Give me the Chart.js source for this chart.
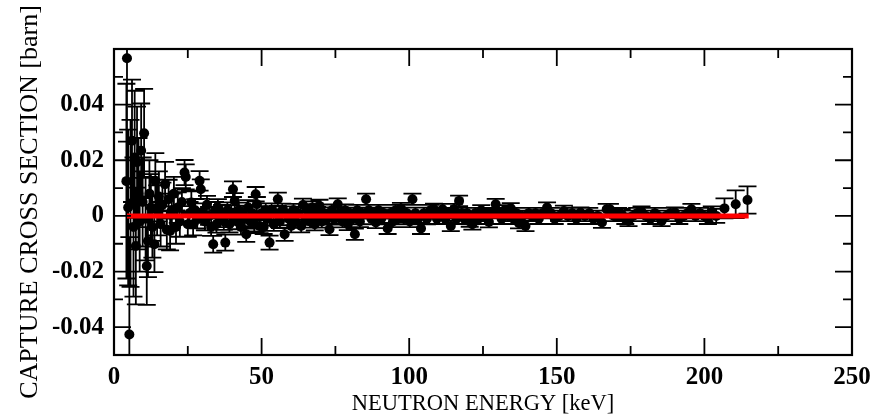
<!DOCTYPE html>
<html>
<head>
<meta charset="utf-8">
<script src="https://cdn.jsdelivr.net/npm/chart.js@4/dist/chart.umd.min.js"></script>
<style>
html, body { margin: 0; padding: 0; background: #fff; }
</style>
</head>
<body>
<canvas id="grafico" width="885" height="416"></canvas>
<script>
// Energia do neutron (keV)
const energia = [
  4.2, 4.4, 4.8, 5.2, 5.6, 6.1, 6.6, 7.0, 7.4, 7.8, 8.3, 8.7, 9.2, 9.7, 10.2, 10.7, 11.1, 11.5, 12.0, 12.5,
  13.0, 13.7, 14.0, 14.6, 15.2, 15.8, 16.4, 17.3, 17.9, 18.5, 19.0, 19.6, 20.3, 21.0, 21.6, 22.3, 23.0, 23.9, 24.3, 25.0,
  25.6, 26.2, 26.8, 27.5, 28.2, 29.0, 29.4, 30.1, 30.8, 31.5, 32.2, 32.9, 33.6, 34.2, 34.7, 35.2, 35.9, 36.6, 37.2, 37.7,
  38.4, 39.1, 39.7, 40.3, 40.9, 41.6, 42.3, 43.0, 43.7, 44.3, 44.8, 45.5, 46.2, 46.9, 47.5, 48.0, 48.4, 49.3, 50.0, 50.7,
  51.4, 52.0, 52.7, 53.4, 54.1, 54.8, 55.5, 56.2, 57.0, 57.8, 58.5, 59.2, 60.0, 60.8, 61.6, 62.4, 63.4, 64.0, 64.8, 65.6,
  66.4, 67.2, 68.0, 68.8, 69.6, 70.4, 71.2, 72.1, 73.0, 73.8, 74.6, 75.8, 76.6, 77.4, 78.3, 79.2, 80.1, 81.0, 81.6, 82.4,
  83.3, 84.2, 85.4, 86.3, 87.2, 88.1, 88.7, 89.6, 90.5, 91.4, 92.7, 93.6, 94.5, 95.4, 96.3, 97.2, 98.2, 99.2, 100.2, 101.1,
  102.1, 103.0, 104.0, 105.0, 106.0, 107.2, 108.4, 109.4, 110.4, 111.3, 112.2, 113.2, 114.1, 115.2, 116.0, 116.9, 117.8, 118.7, 119.6, 120.5,
  121.4, 122.4, 123.4, 124.4, 125.4, 126.2, 127.0, 128.0, 129.3, 130.3, 131.3, 132.3, 133.4, 134.4, 135.4, 136.3, 137.2, 138.3, 139.4, 140.5,
  141.6, 142.8, 143.9, 145.2, 146.7, 148.0, 149.3, 150.8, 152.4, 153.8, 155.2, 156.6, 158.0, 159.5, 161.0, 162.4, 163.8, 165.3, 166.9, 168.0,
  169.4, 170.8, 172.0, 173.2, 174.3, 175.8, 177.2, 178.7, 180.2, 181.7, 183.2, 184.3, 185.5, 187.0, 188.5, 190.0, 191.5, 193.0, 194.3, 195.6,
  197.0, 198.5, 200.0, 201.2, 202.5, 204.0, 206.8, 210.6, 214.6
];

// Secao de choque de captura (barn)
const secao = [
  0.0125, 0.0567, 0.003, -0.0426, 0.0045, 0.027, -0.004, 0.021, -0.0108, 0.0193, 0.008, -0.002, 0.0234, 0.005, 0.0297, -0.001, -0.018, -0.009, 0.008, 0.003,
  -0.004, -0.0102, 0.0126, 0.002, 0.007, -0.003, 0.004, 0.0114, -0.005, 0.006, -0.0054, 0.002, 0.008, -0.004, 0.003, -0.002, 0.005, 0.0156, 0.014, -0.003,
  0.001, 0.0048, -0.003, 0.002, -0.001, 0.0126, 0.0096, 0.001, -0.002, 0.004, 0.0, -0.004, -0.0102, 0.002, -0.003, 0.003, -0.001, 0.001, -0.002, -0.0096,
  0.002, -0.003, 0.001, 0.0096, 0.0054, -0.002, 0.002, -0.004, 0.001, -0.001, -0.0066, 0.003, -0.002, 0.001, -0.003, 0.0078, 0.0042, -0.0036, 0.001, -0.004,
  0.002, -0.001, -0.0096, 0.002, -0.003, 0.001, 0.006, -0.002, 0.002, -0.0066, 0.001, -0.001, -0.0036, 0.002, -0.002, 0.001, -0.0036, 0.0039, -0.001, 0.002,
  -0.002, 0.003, -0.003, 0.001, 0.0036, -0.002, 0.001, -0.001, -0.0048, 0.002, -0.001, 0.0042, 0.001, -0.002, 0.002, -0.003, 0.001, -0.001, -0.0066, 0.002,
  -0.002, 0.001, 0.006, 0.002, -0.001, 0.001, -0.0024, 0.002, -0.001, 0.001, -0.0045, 0.001, -0.002, 0.002, -0.001, 0.0027, -0.001, 0.001, -0.002, 0.006,
  0.001, -0.001, -0.0045, 0.001, -0.001, 0.002, 0.0024, -0.001, 0.001, 0.0024, -0.001, 0.001, -0.0036, 0.0024, -0.001, 0.0054, 0.001, -0.001, 0.001, -0.002,
  -0.003, 0.001, -0.001, 0.002, 0.0, 0.001, -0.0022, 0.001, 0.0042, 0.001, -0.001, 0.002, 0.0, 0.0027, -0.001, 0.001, -0.0026, 0.0, -0.0036, 0.001,
  0.0, 0.001, -0.001, 0.001, 0.003, 0.001, -0.001, 0.0, 0.0018, 0.0, 0.001, -0.001, 0.0012, 0.0, 0.001, -0.001, 0.0, -0.0024, 0.0024, 0.0024,
  0.0, 0.001, 0.0006, -0.001, -0.0018, 0.0, 0.001, 0.0015, 0.0, -0.001, 0.001, 0.0, -0.0018, 0.0, 0.001, 0.0012, -0.001, 0.0, 0.001, 0.0024,
  0.0, 0.001, 0.0, -0.001, 0.0015, 0.0, 0.0027, 0.0042, 0.0057
];

// Incerteza (barn)
const incerteza = [
  0.035, 0.030, 0.028, 0.035, 0.030, 0.022, 0.025, 0.024, 0.021, 0.020, 0.020, 0.018, 0.017, 0.016, 0.016, 0.015, 0.014, 0.013, 0.012, 0.012,
  0.011, 0.010, 0.010, 0.009, 0.009, 0.008, 0.008, 0.008, 0.007, 0.007, 0.007, 0.006, 0.006, 0.006, 0.0055, 0.0055, 0.005, 0.0045, 0.0045, 0.0045,
  0.004, 0.004, 0.004, 0.004, 0.0035, 0.0035, 0.0035, 0.0035, 0.0032, 0.0032, 0.0032, 0.0032, 0.003, 0.003, 0.003, 0.003, 0.003, 0.003, 0.003, 0.0029,
  0.0029, 0.0029, 0.0028, 0.0028, 0.0028, 0.0028, 0.0028, 0.0027, 0.0027, 0.0027, 0.0027, 0.0027, 0.0026, 0.0026, 0.0026, 0.0026, 0.0026, 0.0026, 0.0025, 0.0025,
  0.0025, 0.0025, 0.0025, 0.0025, 0.0024, 0.0024, 0.0024, 0.0024, 0.0024, 0.0024, 0.0024, 0.0023, 0.0023, 0.0023, 0.0023, 0.0023, 0.0023, 0.0023, 0.0022, 0.0022,
  0.0022, 0.0022, 0.0022, 0.0022, 0.0022, 0.0022, 0.0021, 0.0021, 0.0021, 0.0021, 0.0021, 0.0021, 0.0021, 0.0021, 0.0021, 0.0021, 0.002, 0.002, 0.002, 0.002,
  0.002, 0.002, 0.002, 0.002, 0.002, 0.002, 0.002, 0.002, 0.002, 0.002, 0.002, 0.002, 0.002, 0.002, 0.002, 0.002, 0.002, 0.002, 0.002, 0.002,
  0.002, 0.002, 0.002, 0.002, 0.002, 0.002, 0.002, 0.0019, 0.0019, 0.0019, 0.0019, 0.0019, 0.0019, 0.0019, 0.0019, 0.0019, 0.0019, 0.0019, 0.0019, 0.0019,
  0.0019, 0.0019, 0.0019, 0.0019, 0.0019, 0.0019, 0.0019, 0.0019, 0.0019, 0.0019, 0.0019, 0.0019, 0.0019, 0.0019, 0.0019, 0.0019, 0.0019, 0.0019, 0.0019, 0.0019,
  0.0019, 0.0019, 0.0019, 0.0019, 0.0019, 0.0019, 0.0019, 0.0019, 0.0019, 0.0019, 0.0019, 0.0019, 0.0019, 0.0019, 0.0019, 0.0019, 0.0019, 0.0019, 0.0019, 0.0019,
  0.0019, 0.0019, 0.0019, 0.0019, 0.0019, 0.0019, 0.0019, 0.0019, 0.0019, 0.0019, 0.0019, 0.0019, 0.0019, 0.0019, 0.0019, 0.0019, 0.0019, 0.0019, 0.0019, 0.0019,
  0.0019, 0.0019, 0.0019, 0.0019, 0.0019, 0.0025, 0.0036, 0.005, 0.0049
];

// Ajuste (linha vermelha)
const ajusteEnergia = [4.4, 215];
const ajusteSecao = [0, 0];

// Marcas dos eixos
const xTicks = [0, 50, 100, 150, 200, 250];
const xTicksMenores = [25, 75, 125, 175, 225];
const yTicks = [-0.04, -0.02, 0, 0.02, 0.04];
const yTicksMenores = [-0.05, -0.03, -0.01, 0.01, 0.03, 0.05];

const fonte = "'Liberation Serif', 'Times New Roman', serif";

// Barras de erro
const barrasErro = {
  id: 'barrasErro',
  afterDatasetDraw(chart, args) {
    if (args.index !== 1) return;
    const { ctx, chartArea: a, scales: { x, y } } = chart;
    ctx.save();
    ctx.beginPath();
    ctx.rect(a.left, a.top, a.right - a.left, a.bottom - a.top);
    ctx.clip();
    ctx.strokeStyle = '#000';
    ctx.lineWidth = 1.8;
    ctx.beginPath();
    energia.forEach((e, i) => {
      const px = x.getPixelForValue(e);
      const yTop = y.getPixelForValue(secao[i] + incerteza[i]);
      const yBot = y.getPixelForValue(secao[i] - incerteza[i]);
      ctx.moveTo(px, yTop);
      ctx.lineTo(px, yBot);
      ctx.moveTo(px - 9, yTop);
      ctx.lineTo(px + 9, yTop);
      ctx.moveTo(px - 9, yBot);
      ctx.lineTo(px + 9, yBot);
    });
    ctx.stroke();
    ctx.restore();
  }
};

// Moldura e marcas internas
const moldura = {
  id: 'moldura',
  afterDraw(chart) {
    const { ctx, chartArea: a, scales: { x, y } } = chart;
    ctx.save();
    ctx.strokeStyle = '#000';
    ctx.lineWidth = 1.8;
    ctx.beginPath();
    const marcaX = (v, len) => {
      const px = x.getPixelForValue(v);
      ctx.moveTo(px, a.bottom); ctx.lineTo(px, a.bottom - len);
      ctx.moveTo(px, a.top); ctx.lineTo(px, a.top + len);
    };
    const marcaY = (v, len) => {
      const py = y.getPixelForValue(v);
      ctx.moveTo(a.left, py); ctx.lineTo(a.left + len, py);
      ctx.moveTo(a.right, py); ctx.lineTo(a.right - len, py);
    };
    xTicks.forEach(v => marcaX(v, 17));
    xTicksMenores.forEach(v => marcaX(v, 9));
    yTicks.forEach(v => marcaY(v, 17));
    yTicksMenores.forEach(v => marcaY(v, 9));
    ctx.stroke();
    ctx.lineWidth = 2.2;
    ctx.strokeRect(a.left, a.top, a.right - a.left, a.bottom - a.top);
    ctx.restore();
  }
};

const pontos = energia.map((e, i) => ({ x: e, y: secao[i] }));
const ajuste = ajusteEnergia.map((e, i) => ({ x: e, y: ajusteSecao[i] }));

new Chart(document.getElementById('grafico'), {
  type: 'scatter',
  data: {
    datasets: [
      {
        type: 'line',
        data: ajuste,
        borderColor: '#ff0000',
        borderWidth: 5,
        pointRadius: 0,
        fill: false
      },
      {
        data: pontos,
        backgroundColor: '#000',
        borderWidth: 0,
        pointRadius: 5
      }
    ]
  },
  options: {
    responsive: false,
    animation: false,
    layout: { padding: { top: 49, right: 33, left: 0, bottom: 0 } },
    plugins: { legend: { display: false }, tooltip: { enabled: false } },
    scales: {
      x: {
        type: 'linear',
        min: 0,
        max: 250,
        afterBuildTicks: s => { s.ticks = xTicks.map(v => ({ value: v })); },
        afterFit: s => { s.height = 61; },
        grid: { display: false },
        border: { display: false },
        ticks: { color: '#000', font: { family: fonte, size: 25, weight: 'bold' }, padding: 0, maxRotation: 0, autoSkip: false },
        title: { display: true, text: 'NEUTRON ENERGY [keV]', color: '#000', font: { family: fonte, size: 22.5 }, padding: { top: 0, bottom: -2 } }
      },
      y: {
        type: 'linear',
        min: -0.05,
        max: 0.06,
        afterBuildTicks: s => { s.ticks = yTicks.map(v => ({ value: v })); },
        afterFit: s => { s.width = 114; },
        grid: { display: false },
        border: { display: false },
        ticks: {
          color: '#000',
          font: { family: fonte, size: 25, weight: 'bold' },
          padding: 2,
          callback: v => (Math.abs(v) < 1e-9 ? '0' : v.toFixed(2))
        },
        title: { display: true, text: 'CAPTURE CROSS SECTION [barn]', color: '#000', font: { family: fonte, size: 26 }, padding: { top: 15, bottom: 0 } }
      }
    }
  },
  plugins: [barrasErro, moldura]
});
</script>
</body>
</html>
